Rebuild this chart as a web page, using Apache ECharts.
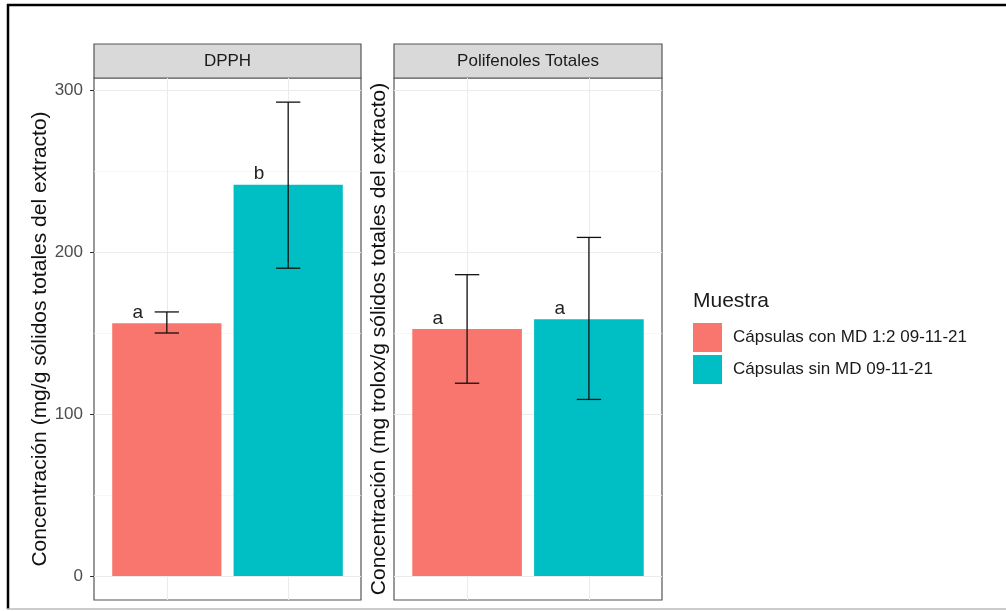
<!DOCTYPE html>
<html>
<head>
<meta charset="utf-8">
<script src="https://cdn.jsdelivr.net/npm/echarts@6/dist/echarts.min.js"></script>
<style>
html,body{margin:0;padding:0;background:#fff;}
#c{width:1006px;height:611px;}
</style>
</head>
<body>
<div id="c"></div>
<script>
// ---- data ----
const panels = ['DPPH', 'Polifenoles Totales'];
const samples = ['Cápsulas con MD 1:2 09-11-21', 'Cápsulas sin MD 09-11-21'];
const samplePos = [1, 2];
const meanDPPH = [156, 241.5];
const lowDPPH = [150, 190];
const highDPPH = [163, 292.5];
const letterDPPH = ['a', 'b'];
const meanPoli = [152.5, 158.5];
const lowPoli = [119, 109];
const highPoli = [186, 209];
const letterPoli = ['a', 'a'];
const yTicks = [0, 100, 200, 300];
const yMinor = [50, 150, 250];
const yTitles = ['Concentración (mg/g sólidos totales del extracto)',
                 'Concentración (mg trolox/g sólidos totales del extracto)'];
const colors = ['#F8766D', '#00BFC4'];

const FONT = "'Liberation Sans', Arial, sans-serif";
const chart = echarts.init(document.getElementById('c'), null, {renderer: 'canvas'});

const panelData = [
  {mean: meanDPPH, low: lowDPPH, high: highDPPH, letter: letterDPPH},
  {mean: meanPoli, low: lowPoli, high: highPoli, letter: letterPoli}
];

function makeRender(letters) {
  return function (params, api) {
    const x = api.value(0), m = api.value(1), lo = api.value(2), hi = api.value(3);
    const p0 = api.coord([x - 0.45, m]);
    const p1 = api.coord([x + 0.45, 0]);
    const t = api.coord([x, hi]);
    const b = api.coord([x, lo]);
    const cl = api.coord([x - 0.1, hi]);
    const cr = api.coord([x + 0.1, hi]);
    const lab = api.coord([x - 0.24, m]);
    const st = {stroke: '#111', lineWidth: 1.3};
    return {
      type: 'group',
      children: [
        {type: 'rect', shape: {x: p0[0], y: p0[1], width: p1[0] - p0[0], height: p1[1] - p0[1]},
         style: {fill: api.visual('color')}},
        {type: 'line', shape: {x1: t[0], y1: t[1], x2: b[0], y2: b[1]}, style: st},
        {type: 'line', shape: {x1: cl[0], y1: t[1], x2: cr[0], y2: t[1]}, style: st},
        {type: 'line', shape: {x1: cl[0], y1: b[1], x2: cr[0], y2: b[1]}, style: st},
        {type: 'text', style: {text: letters[params.dataIndex], x: lab[0], y: lab[1] - 1,
          align: 'center', verticalAlign: 'bottom', font: '19px ' + FONT, fill: '#222'}}
      ]
    };
  };
}

const series = [];
const gridLeft = [94, 394];
const gridW = [267, 268];
panels.forEach((p, pi) => {
  // grid lines
  series.push({
    type: 'line', xAxisIndex: pi, yAxisIndex: pi, data: [], silent: true, z: 1,
    markLine: {
      silent: true, symbol: 'none', label: {show: false}, animation: false, z: 1,
      data: yTicks.map(v => ({yAxis: v, lineStyle: {color: '#ebebeb', width: 1.1, type: 'solid'}}))
        .concat(yMinor.map(v => ({yAxis: v, lineStyle: {color: '#f3f3f3', width: 0.7, type: 'solid'}})))
        .concat(samplePos.map(v => ({xAxis: v, lineStyle: {color: '#ebebeb', width: 1.1, type: 'solid'}})))
    }
  });
  samples.forEach((s, si) => {
    const d = panelData[pi];
    const one = [d.letter[si]];
    series.push({
      type: 'custom', name: s, xAxisIndex: pi, yAxisIndex: pi, z: 10,
      itemStyle: {color: colors[si]},
      renderItem: makeRender(one),
      data: [[samplePos[si], d.mean[si], d.low[si], d.high[si]]],
      animation: false
    });
  });
});

const option = {
  backgroundColor: '#fff',
  animation: false,
  textStyle: {fontFamily: FONT},
  grid: panels.map((p, i) => ({left: gridLeft[i], top: 78, width: gridW[i], height: 522,
    show: true, backgroundColor: '#fff', borderColor: '#555', borderWidth: 1.2})),
  xAxis: panels.map((p, i) => ({
    type: 'value', gridIndex: i, min: 0.4, max: 2.6,
    axisLine: {show: false}, splitLine: {show: false}, axisLabel: {show: false},
    axisTick: {show: true, customValues: samplePos, length: 4, lineStyle: {color: '#333'}}
  })),
  yAxis: panels.map((p, i) => ({
    type: 'value', gridIndex: i, min: -14.8, max: 307.4,
    name: yTitles[i], nameLocation: 'middle', nameRotate: 90,
    nameGap: i === 0 ? 42 : 4,
    nameTextStyle: {fontSize: 21, color: '#111', fontFamily: FONT},
    axisLine: {show: false}, splitLine: {show: false},
    axisTick: {show: i === 0, customValues: yTicks, length: 4, lineStyle: {color: '#333'}},
    axisLabel: {show: i === 0, customValues: yTicks, fontSize: 17, color: '#4d4d4d', margin: 11, fontFamily: FONT}
  })),
  legend: {
    data: samples, orient: 'vertical', left: 693, top: 323, padding: 0,
    itemWidth: 29, itemHeight: 29, itemGap: 3, icon: 'rect',
    textStyle: {fontSize: 17, color: '#1a1a1a', padding: [0, 0, 0, 6], fontFamily: FONT}
  },
  graphic: [
    // outer frame
    {type: 'line', shape: {x1: 7, y1: 5, x2: 1006, y2: 5}, style: {stroke: '#000', lineWidth: 2.5}, silent: true},
    {type: 'line', shape: {x1: 8, y1: 4, x2: 8, y2: 609}, style: {stroke: '#000', lineWidth: 2.5}, silent: true},
    {type: 'line', shape: {x1: 7, y1: 609, x2: 1006, y2: 609}, style: {stroke: '#bbb', lineWidth: 1.5}, silent: true},
    // strips
    {type: 'rect', shape: {x: 94, y: 44, width: 267, height: 34}, style: {fill: '#d9d9d9', stroke: '#555', lineWidth: 1.2}, silent: true},
    {type: 'text', x: 94 + 267 / 2, y: 61, style: {text: panels[0], align: 'center', verticalAlign: 'middle', font: '17px ' + FONT, fill: '#1a1a1a'}, silent: true},
    {type: 'rect', shape: {x: 394, y: 44, width: 268, height: 34}, style: {fill: '#d9d9d9', stroke: '#555', lineWidth: 1.2}, silent: true},
    {type: 'text', x: 394 + 268 / 2, y: 61, style: {text: panels[1], align: 'center', verticalAlign: 'middle', font: '17px ' + FONT, fill: '#1a1a1a'}, silent: true},
    // legend title
    {type: 'text', x: 693, y: 301, style: {text: 'Muestra', align: 'left', verticalAlign: 'middle', font: '21px ' + FONT, fill: '#1a1a1a'}, silent: true}
  ],
  series: series
};
chart.setOption(option);
</script>
</body>
</html>
